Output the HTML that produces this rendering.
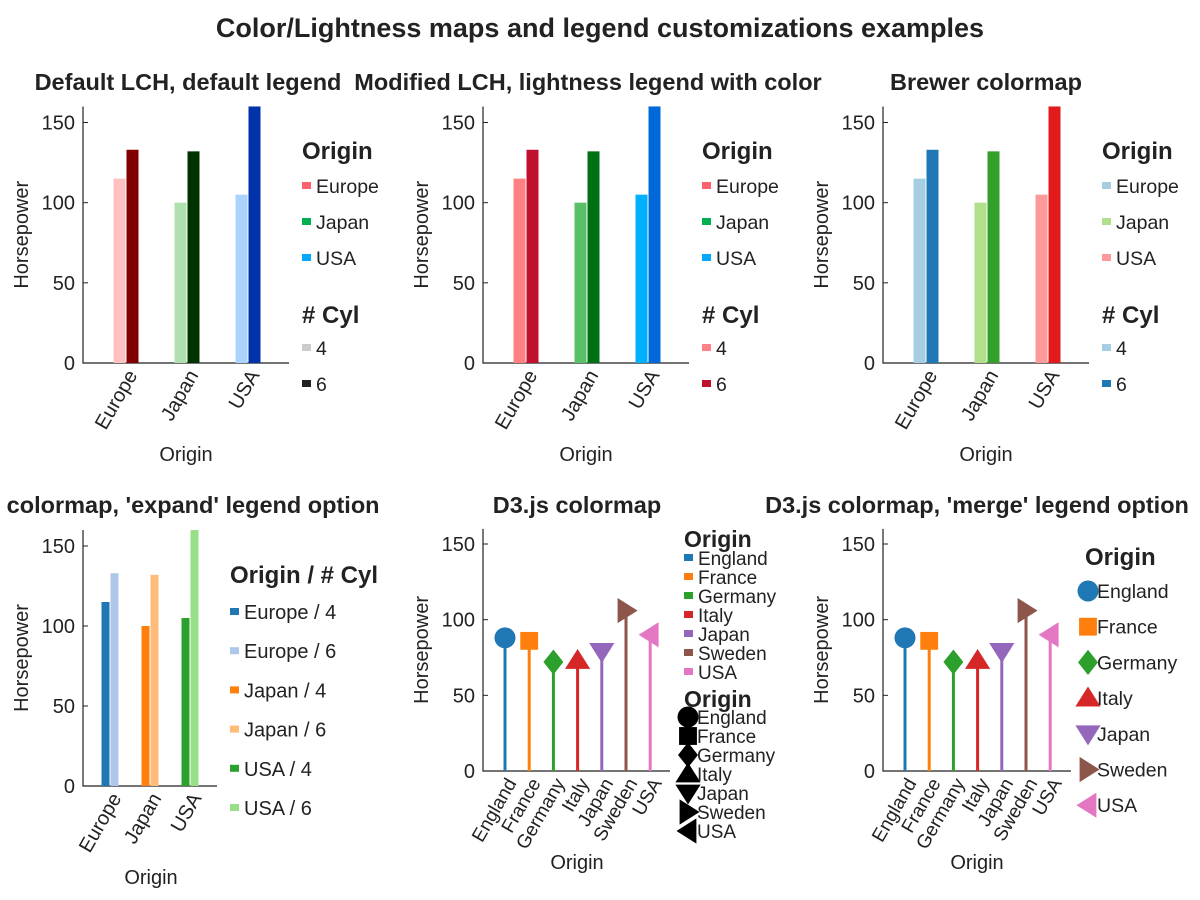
<!DOCTYPE html>
<html><head><meta charset="utf-8"><style>
html,body{margin:0;padding:0;background:#fff;}
svg{display:block;font-family:"Liberation Sans",Arial,sans-serif;}
</style></head><body>
<svg id="c" width="1200" height="900" viewBox="0 0 1200 900">
<text x="600" y="37" text-anchor="middle" font-size="27" font-weight="bold" fill="#222">Color/Lightness maps and legend customizations examples</text>
</svg>
<script>
// ---- data ----
var barCategories = ["Europe", "Japan", "USA"];
var cylLabels = ["4", "6"];
var hp4 = [115, 100, 105];
var hp6 = [133, 132, 165];
var yTicks = [0, 50, 100, 150];
var stemCategories = ["England", "France", "Germany", "Italy", "Japan", "Sweden", "USA"];
var stemValues = [88, 86, 72, 73, 79, 106, 90];

var NS = "http://www.w3.org/2000/svg";
var svg = document.getElementById('c');
function mk(tag, attrs, parent, txt) {
  var e = document.createElementNS(NS, tag);
  for (var k in attrs) e.setAttribute(k, attrs[k]);
  if (txt !== undefined) e.textContent = txt;
  (parent || svg).appendChild(e);
  return e;
}
function axes(p) {
  var g = mk('g', {});
  
  
  p.y = function (v) { return p.y0 - v * (p.y0 - p.y150) / 150; };
  var t = mk('text', {x: p.tx, y: p.ty, 'text-anchor': 'middle', 'font-size': 23.5, 'font-weight': 'bold', fill: '#222'}, g, p.title);
  
  
  var ax = mk('path', {d: 'M' + p.x0 + ' ' + p.y(160) + 'V' + p.y0 + 'H' + p.x1, stroke: '#222', 'stroke-width': 1.2, fill: 'none'}, g);
  
  
  yTicks.forEach(function (v) {
    mk('line', {x1: p.x0, x2: p.x0 + 5, y1: p.y(v), y2: p.y(v), stroke: '#222'}, g);
    var tl = mk('text', {x: p.x0 - 8, y: p.y(v) + 7, 'text-anchor': 'end', 'font-size': 20, fill: '#222'}, g, v);
    
    
  });
  var yl = mk('text', {transform: 'translate(' + (p.x0 - 55) + ',' + ((p.y0 + p.y(160)) / 2) + ') rotate(-90)', 'text-anchor': 'middle', 'font-size': 20, fill: '#222'}, g, 'Horsepower');
  
  
  var xl = mk('text', {x: p.xlx, y: p.y0 + 98, 'text-anchor': 'middle', 'font-size': 20, fill: '#222'}, g, 'Origin');
  
  
  p.g = g;
  return p;
}
function xTick(p, x, label, fs) {
  var t = mk('text', {transform: 'translate(' + (x + 12) + ',' + (p.y0 + 12) + ') rotate(-60)', 'text-anchor': 'end', 'font-size': fs || 20, fill: '#222'}, p.g, label);
  
  
}
function legTitle(g, x, y, s, fs) {
  var t = mk('text', {x: x, y: y, 'font-size': fs || 24, 'font-weight': 'bold', fill: '#222'}, g, s);
  
  
}
function legItem(g, x, y, color, s, fs) {
  var r = mk('rect', {x: x, y: y - 4, width: 9, height: 7, fill: color}, g);
  
  
  var t = mk('text', {x: x + 14, y: y + 7, 'font-size': fs || 19.5, fill: '#222'}, g, s);
  
  
}
function barPanel(p, c4, c6, bw, off, step) {
  axes(p);
  barCategories.forEach(function (cat, i) {
    var cx = p.x0 + off + i * step;
    var top = Math.max(p.y(160), p.y(hp4[i]));
    var b = mk('rect', {x: cx - bw - 0.5, y: top, width: bw, height: p.y0 - top, fill: c4[i]}, p.g);
    
    
    top = Math.max(p.y(160), p.y(hp6[i]));
    b = mk('rect', {x: cx + 0.5, y: top, width: bw, height: p.y0 - top, fill: c6[i]}, p.g);
    
    
    xTick(p, cx, cat);
  });
}
function splitLegend(p, lx, oc, cc) {
  var g = mk('g', {});
  
  
  legTitle(g, lx, 159, 'Origin');
  barCategories.forEach(function (c, i) { legItem(g, lx, 186 + i * 36, oc[i], c); });
  legTitle(g, lx, 323, '# Cyl');
  cylLabels.forEach(function (c, i) { legItem(g, lx, 348 + i * 36, cc[i], c); });
}

var p1 = {name: 'panel-default-lch', x0: 83, x1: 289, y0: 363, y150: 122.5, tx: 188, ty: 90, xlx: 186, title: 'Default LCH, default legend'};
barPanel(p1, ['#ffc0c0', '#b0e0b0', '#aad4ff'], ['#800000', '#003300', '#0033aa'], 12, 43, 61);
splitLegend(p1, 302, ['#ff6070', '#00b050', '#00a8ff'], ['#cccccc', '#222222']);

var p2 = {name: 'panel-modified-lch', x0: 483, x1: 689, y0: 363, y150: 122.5, tx: 588, ty: 90, xlx: 586, title: 'Modified LCH, lightness legend with color'};
barPanel(p2, ['#ff8080', '#58c068', '#00b0ff'], ['#c01030', '#007015', '#0068d8'], 12, 43, 61);
splitLegend(p2, 702, ['#ff6070', '#00b050', '#00a8ff'], ['#ff8088', '#c01030']);

var p3 = {name: 'panel-brewer', x0: 883, x1: 1089, y0: 363, y150: 122.5, tx: 986, ty: 90, xlx: 986, title: 'Brewer colormap'};
barPanel(p3, ['#a6cee3', '#b2df8a', '#fb9a99'], ['#1f78b4', '#33a02c', '#e31a1c'], 12, 43, 61);
splitLegend(p3, 1102, ['#a6cee3', '#b2df8a', '#fb9a99'], ['#a6cee3', '#1f78b4']);

var p4 = {name: 'panel-brewer-expand', x0: 83, x1: 217, y0: 786, y150: 546, tx: 150, ty: 513, xlx: 151, title: "Brewer colormap, 'expand' legend option"};
var c4x = ['#1f77b4', '#ff7f0e', '#2ca02c'], c6x = ['#aec7e8', '#ffbb78', '#98df8a'];
barPanel(p4, c4x, c6x, 8, 27, 40);
(function () {
  var g = mk('g', {});
  
  
  legTitle(g, 230, 583, 'Origin / # Cyl');
  var k = 0;
  barCategories.forEach(function (c, i) {
    legItem(g, 230, 612 + (k++) * 39.2, c4x[i], c + ' / ' + cylLabels[0], 20);
    legItem(g, 230, 612 + (k++) * 39.2, c6x[i], c + ' / ' + cylLabels[1], 20);
  });
})();

var tab10 = ['#1f77b4', '#ff7f0e', '#2ca02c', '#d62728', '#9467bd', '#8c564b', '#e377c2'];
function marker(g, kind, x, y, r, color) {
  var e;
  if (kind === 0) e = mk('circle', {cx: x, cy: y, r: r}, g);
  else if (kind === 1) e = mk('rect', {x: x - r * 0.85, y: y - r * 0.85, width: r * 1.7, height: r * 1.7}, g);
  else {
    var pts;
    if (kind === 2) pts = [[0, -r * 1.2], [r * 0.95, 0], [0, r * 1.2], [-r * 0.95, 0]];
    else if (kind === 3) pts = [[0, -r * 1.1], [r * 1.2, r * 0.8], [-r * 1.2, r * 0.8]];
    else if (kind === 4) pts = [[0, r * 1.1], [r * 1.2, -r * 0.8], [-r * 1.2, -r * 0.8]];
    else if (kind === 5) pts = [[r * 1.1, 0], [-r * 0.8, r * 1.2], [-r * 0.8, -r * 1.2]];
    else pts = [[-r * 1.1, 0], [r * 0.8, r * 1.2], [r * 0.8, -r * 1.2]];
    e = mk('polygon', {points: pts.map(function (q) { return (x + q[0]) + ',' + (y + q[1]); }).join(' ')}, g);
  }
  e.setAttribute('fill', color);
  return e;
}
function stemPanel(p) {
  axes(p);
  stemCategories.forEach(function (c, i) {
    var x = p.x0 + 22 + i * 24.2;
    var s = mk('line', {x1: x, x2: x, y1: p.y0, y2: p.y(stemValues[i]), stroke: tab10[i], 'stroke-width': 3}, p.g);
    
    
    var m = marker(p.g, i, x, p.y(stemValues[i]), 10.5, tab10[i]);
    
    
    xTick(p, x, c, 19);
  });
}
var p5 = {name: 'panel-d3', x0: 483, x1: 670, y0: 771, y150: 544, tx: 577, ty: 513, xlx: 577, title: 'D3.js colormap'};
stemPanel(p5);
(function () {
  var g = mk('g', {});
  
  
  legTitle(g, 684, 547, 'Origin', 23);
  stemCategories.forEach(function (c, i) { legItem(g, 684, 558 + i * 19, tab10[i], c, 19); });
  legTitle(g, 684, 707, 'Origin', 23);
  stemCategories.forEach(function (c, i) {
    var y = 717 + i * 19;
    var m = marker(g, i, 688, y, 10.5, '#000');
    
    
    var t = mk('text', {x: 697, y: y + 7, 'font-size': 19, fill: '#222'}, g, c);
    
    
  });
})();
var p6 = {name: 'panel-d3-merge', x0: 883, x1: 1071, y0: 771, y150: 544, tx: 977, ty: 513, xlx: 977, title: "D3.js colormap, 'merge' legend option"};
stemPanel(p6);
(function () {
  var g = mk('g', {});
  
  
  legTitle(g, 1085, 565, 'Origin');
  stemCategories.forEach(function (c, i) {
    var y = 591 + i * 35.7;
    var m = marker(g, i, 1088, y, 10.5, tab10[i]);
    
    
    var t = mk('text', {x: 1097, y: y + 7, 'font-size': 19.5, fill: '#222'}, g, c);
    
    
  });
})();
</script>
</body></html>
